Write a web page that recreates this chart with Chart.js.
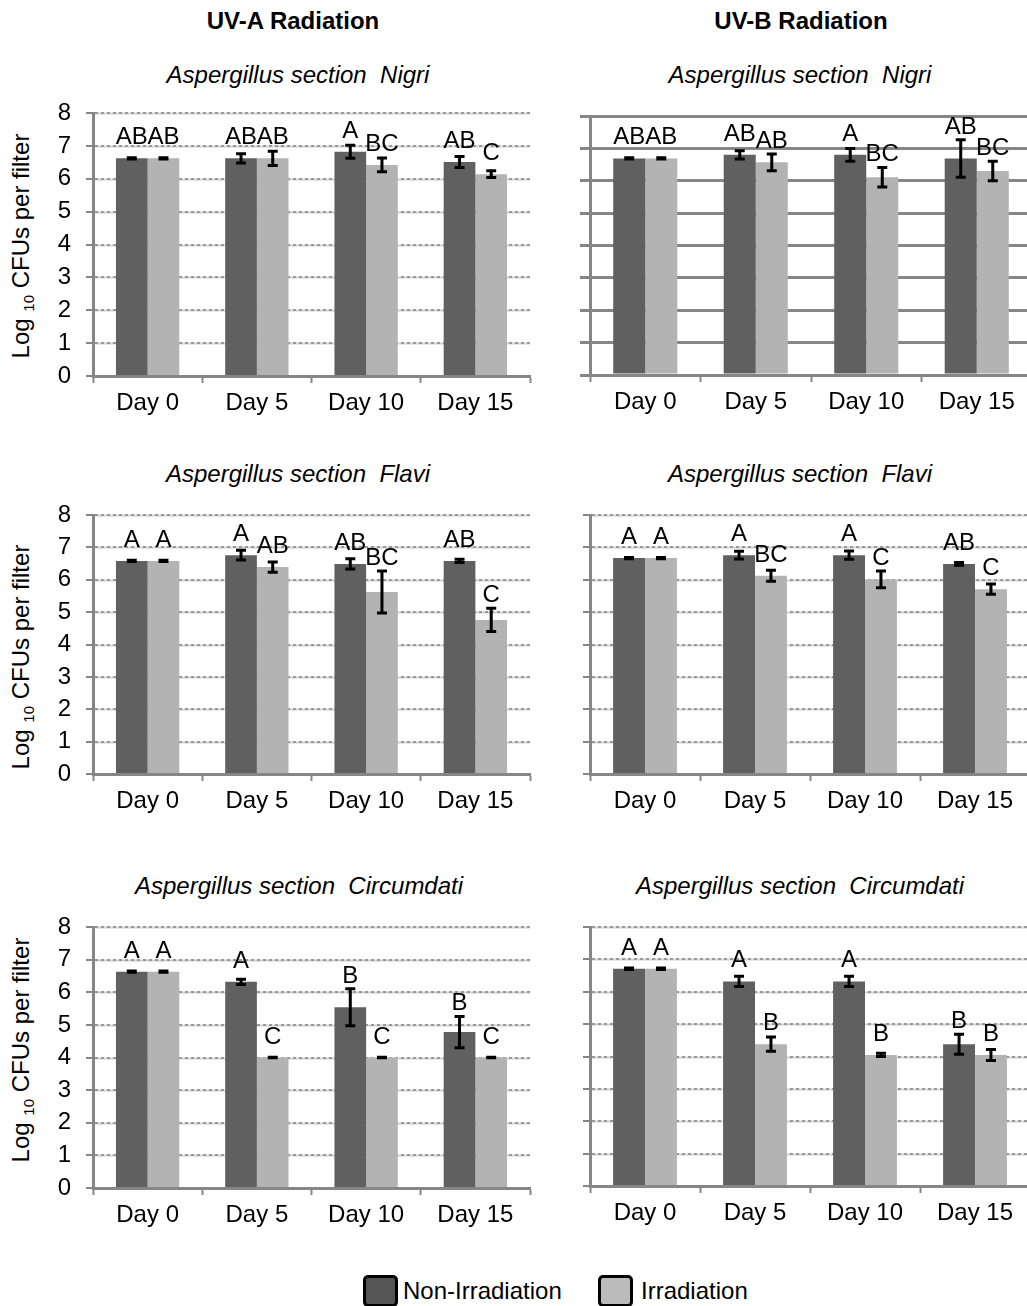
<!DOCTYPE html>
<html>
<head>
<meta charset="utf-8">
<script src="https://cdn.jsdelivr.net/npm/chart.js@4.4.1/dist/chart.umd.min.js"></script>
<style>
  body{margin:0;width:1027px;height:1306px;overflow:hidden;background:#fff;position:relative;
       font-family:'Liberation Sans',Arial,sans-serif;color:#000}
  .c{position:absolute;transform:translate(-50%,-50%);white-space:pre;font-size:24px;line-height:28px}
  .head{font-weight:bold}
  .sub{font-style:italic}
  .ytitle{position:absolute;transform:translate(-50%,-50%) rotate(-90deg);white-space:nowrap;font-size:24px;line-height:28px}
  .ytitle sub{font-size:15px}
  canvas{position:absolute}
  .lg-box{position:absolute;width:29px;height:26px;border:3px solid #000;border-radius:5px}
  .lg-txt{position:absolute;font-size:24px;line-height:28px}
</style>
</head>
<body>

<div class="c head" style="left:293px;top:21px">UV-A Radiation</div>
<div class="c head" style="left:801px;top:21px">UV-B Radiation</div>

<div class="c sub" style="left:298px;top:75px">Aspergillus section  Nigri</div>
<div class="c sub" style="left:800px;top:75px">Aspergillus section  Nigri</div>
<div class="c sub" style="left:298px;top:474px">Aspergillus section  Flavi</div>
<div class="c sub" style="left:800px;top:474px">Aspergillus section  Flavi</div>
<div class="c sub" style="left:299px;top:886px">Aspergillus section  Circumdati</div>
<div class="c sub" style="left:800px;top:886px">Aspergillus section  Circumdati</div>

<div class="ytitle" style="left:25px;top:246px">Log <sub>10</sub> CFUs per filter</div>
<div class="ytitle" style="left:25px;top:657px">Log <sub>10</sub> CFUs per filter</div>
<div class="ytitle" style="left:25px;top:1050px">Log <sub>10</sub> CFUs per filter</div>

<canvas id="p1"></canvas>
<canvas id="p2"></canvas>
<canvas id="p3"></canvas>
<canvas id="p4"></canvas>
<canvas id="p5"></canvas>
<canvas id="p6"></canvas>

<div class="lg-box" style="left:363px;top:1275px;background:#555"></div>
<div class="lg-txt" style="left:403px;top:1277px">Non-Irradiation</div>
<div class="lg-box" style="left:598px;top:1275px;background:#bbb"></div>
<div class="lg-txt" style="left:641px;top:1277px">Irradiation</div>

<script>
// ---- data: log10 CFUs per filter, mean ± error, with significance letters ----
const days = ['Day 0', 'Day 5', 'Day 10', 'Day 15'];
const yTickValues = [0, 1, 2, 3, 4, 5, 6, 7, 8];

// UV-A, section Nigri
const uvaNigriNon      = [6.62, 6.62, 6.82, 6.51];
const uvaNigriNonErr   = [0.02, 0.14, 0.20, 0.17];
const uvaNigriNonSig   = ['AB', 'AB', 'A', 'AB'];
const uvaNigriIrr      = [6.62, 6.62, 6.42, 6.14];
const uvaNigriIrrErr   = [0.02, 0.22, 0.21, 0.10];
const uvaNigriIrrSig   = ['AB', 'AB', 'BC', 'C'];

// UV-B, section Nigri
const uvbNigriNon      = [6.69, 6.80, 6.80, 6.69];
const uvbNigriNonErr   = [0.02, 0.13, 0.20, 0.58];
const uvbNigriNonSig   = ['AB', 'AB', 'A', 'AB'];
const uvbNigriIrr      = [6.69, 6.57, 6.11, 6.30];
const uvbNigriIrrErr   = [0.02, 0.26, 0.30, 0.30];
const uvbNigriIrrSig   = ['AB', 'AB', 'BC', 'BC'];

// UV-A, section Flavi
const uvaFlaviNon      = [6.58, 6.76, 6.49, 6.58];
const uvaFlaviNonErr   = [0.02, 0.15, 0.16, 0.05];
const uvaFlaviNonSig   = ['A', 'A', 'AB', 'AB'];
const uvaFlaviIrr      = [6.58, 6.39, 5.62, 4.76];
const uvaFlaviIrrErr   = [0.02, 0.16, 0.65, 0.36];
const uvaFlaviIrrSig   = ['A', 'AB', 'BC', 'C'];

// UV-B, section Flavi
const uvbFlaviNon      = [6.67, 6.76, 6.76, 6.49];
const uvbFlaviNonErr   = [0.02, 0.12, 0.13, 0.04];
const uvbFlaviNonSig   = ['A', 'A', 'A', 'AB'];
const uvbFlaviIrr      = [6.67, 6.12, 6.01, 5.71];
const uvbFlaviIrrErr   = [0.02, 0.17, 0.26, 0.16];
const uvbFlaviIrrSig   = ['A', 'BC', 'C', 'C'];

// UV-A, section Circumdati
const uvaCircNon       = [6.63, 6.32, 5.54, 4.78];
const uvaCircNonErr    = [0.02, 0.08, 0.57, 0.48];
const uvaCircNonSig    = ['A', 'A', 'B', 'B'];
const uvaCircIrr       = [6.63, 4.00, 4.00, 4.00];
const uvaCircIrrErr    = [0.02, 0.01, 0.01, 0.01];
const uvaCircIrrSig    = ['A', 'C', 'C', 'C'];

// UV-B, section Circumdati
const uvbCircNon       = [6.71, 6.32, 6.32, 4.38];
const uvbCircNonErr    = [0.02, 0.16, 0.16, 0.31];
const uvbCircNonSig    = ['A', 'A', 'A', 'B'];
const uvbCircIrr       = [6.71, 4.38, 4.05, 4.05];
const uvbCircIrrErr    = [0.02, 0.22, 0.05, 0.17];
const uvbCircIrrSig    = ['A', 'B', 'B', 'B'];

// ---- look ----
const FONT = "'Liberation Sans', Arial, sans-serif";
const DARK = '#606060', LIGHT = '#b3b3b3', AXIS = '#868686';
Chart.defaults.font.family = FONT;
Chart.defaults.font.size = 24;
Chart.defaults.color = '#000';

// light solid band under the dotted gridlines
const gridUnderlay = {
  id: 'gridUnderlay',
  beforeDraw(chart, args, opts) {
    if (!opts.color) return;
    const {ctx, chartArea: a, scales: {y}} = chart;
    ctx.save();
    ctx.strokeStyle = opts.color;
    ctx.lineWidth = 2;
    y.ticks.forEach(t => {
      const py = Math.round(y.getPixelForValue(t.value)) + 0.5;
      ctx.beginPath(); ctx.moveTo(a.left, py); ctx.lineTo(a.right, py); ctx.stroke();
    });
    ctx.restore();
  }
};

// error bars + letters over every bar
const errorBars = {
  id: 'errorBars',
  afterDatasetsDraw(chart) {
    const {ctx, scales: {y}} = chart;
    chart.data.datasets.forEach((ds, d) => {
      chart.getDatasetMeta(d).data.forEach((bar, i) => {
        const v = ds.data[i], e = ds.errors[i];
        const top = y.getPixelForValue(v + e), bot = y.getPixelForValue(v - e);
        ctx.save();
        ctx.strokeStyle = '#000';
        ctx.lineWidth = 3;
        ctx.beginPath();
        ctx.moveTo(bar.x, top); ctx.lineTo(bar.x, bot);
        ctx.moveTo(bar.x - 5, top); ctx.lineTo(bar.x + 5, top);
        ctx.moveTo(bar.x - 5, bot); ctx.lineTo(bar.x + 5, bot);
        ctx.stroke();
        ctx.fillStyle = '#000';
        ctx.font = '24px ' + FONT;
        ctx.textAlign = 'center';
        ctx.textBaseline = 'alphabetic';
        ctx.fillText(ds.letters[i], bar.x, Math.min(bar.y - 14, top - 6));
        ctx.restore();
      });
    });
  }
};

// canvas boxes and the plot rectangle inside each (page pixels)
const panels = [
  {id: 'p1', left: 0,   top: 95,  w: 545, h: 330, area: {l: 93,  t: 113, r: 530,  b: 376},
   non: [uvaNigriNon, uvaNigriNonErr, uvaNigriNonSig], irr: [uvaNigriIrr, uvaNigriIrrErr, uvaNigriIrrSig], yLabels: true,  solid: false},
  {id: 'p2', left: 555, top: 95,  w: 480, h: 330, area: {l: 590, t: 116, r: 1032, b: 375},
   non: [uvbNigriNon, uvbNigriNonErr, uvbNigriNonSig], irr: [uvbNigriIrr, uvbNigriIrrErr, uvbNigriIrrSig], yLabels: false, solid: true},
  {id: 'p3', left: 0,   top: 495, w: 545, h: 330, area: {l: 93,  t: 515, r: 530,  b: 774},
   non: [uvaFlaviNon, uvaFlaviNonErr, uvaFlaviNonSig], irr: [uvaFlaviIrr, uvaFlaviIrrErr, uvaFlaviIrrSig], yLabels: true,  solid: false},
  {id: 'p4', left: 555, top: 495, w: 480, h: 330, area: {l: 590, t: 515, r: 1030, b: 774},
   non: [uvbFlaviNon, uvbFlaviNonErr, uvbFlaviNonSig], irr: [uvbFlaviIrr, uvbFlaviIrrErr, uvbFlaviIrrSig], yLabels: false, solid: false},
  {id: 'p5', left: 0,   top: 905, w: 545, h: 330, area: {l: 93,  t: 927, r: 530,  b: 1188},
   non: [uvaCircNon, uvaCircNonErr, uvaCircNonSig], irr: [uvaCircIrr, uvaCircIrrErr, uvaCircIrrSig], yLabels: true,  solid: false},
  {id: 'p6', left: 555, top: 905, w: 480, h: 330, area: {l: 590, t: 927, r: 1030, b: 1186},
   non: [uvbCircNon, uvbCircNonErr, uvbCircNonSig], irr: [uvbCircIrr, uvbCircIrrErr, uvbCircIrrSig], yLabels: false, solid: false},
];

panels.forEach(p => {
  const cv = document.getElementById(p.id);
  cv.width = p.w; cv.height = p.h;
  cv.style.left = p.left + 'px'; cv.style.top = p.top + 'px';
  cv.style.width = p.w + 'px'; cv.style.height = p.h + 'px';

  new Chart(cv, {
    type: 'bar',
    data: {
      labels: days,
      datasets: [
        {label: 'Non-Irradiation', data: p.non[0], errors: p.non[1], letters: p.non[2], backgroundColor: DARK},
        {label: 'Irradiation',     data: p.irr[0], errors: p.irr[1], letters: p.irr[2], backgroundColor: LIGHT},
      ]
    },
    options: {
      responsive: false,
      animation: false,
      devicePixelRatio: 1,
      categoryPercentage: 0.58,
      barPercentage: 1,
      layout: {padding: {top: p.area.t - p.top, right: p.left + p.w - p.area.r, left: 0, bottom: 0}},
      plugins: {
        legend: {display: false},
        tooltip: {enabled: false},
        gridUnderlay: {color: p.solid ? null : '#d2d2d2'}
      },
      scales: {
        x: {
          afterFit: s => {
            s.height = p.top + p.h - p.area.b;
            s.paddingLeft = 0; s.paddingRight = 0;
          },
          grid: {display: true, offset: true, drawOnChartArea: false, drawTicks: true,
                 tickLength: 7, tickColor: AXIS, tickWidth: 2},
          border: {display: true, color: AXIS, width: 3},
          ticks: {padding: 6, maxRotation: 0, autoSkip: false, color: '#000'}
        },
        y: {
          min: 0, max: 8,
          afterBuildTicks: s => { s.ticks = yTickValues.map(v => ({value: v})); },
          afterFit: s => {
            s.width = p.area.l - p.left;
            s.paddingTop = 0; s.paddingBottom = 0;
          },
          grid: p.solid
            ? {color: AXIS, lineWidth: 3, tickLength: 10, tickColor: AXIS, tickWidth: 3}
            : {color: '#999999', lineWidth: 2, tickLength: 7, tickColor: AXIS, tickWidth: 2},
          border: {display: true, color: AXIS, width: 3, dash: p.solid ? [] : [3, 3]},
          ticks: {display: p.yLabels, autoSkip: false, padding: 15, color: '#000'}
        }
      }
    },
    plugins: [gridUnderlay, errorBars]
  });
});
</script>
</body>
</html>
